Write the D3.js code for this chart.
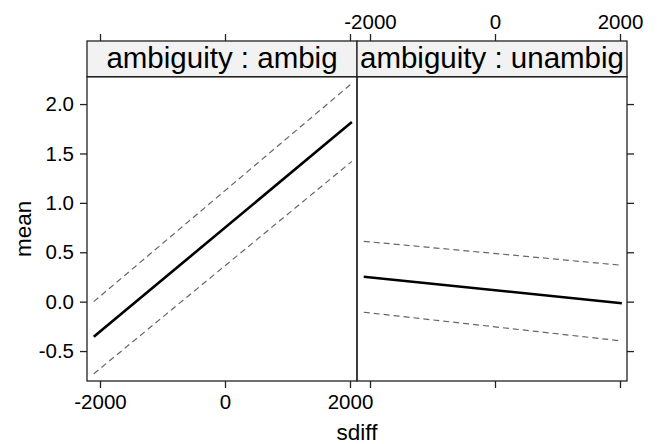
<!DOCTYPE html>
<html>
<head>
<meta charset="utf-8">
<script src="https://cdn.jsdelivr.net/npm/d3@7"></script>
<style>
  body { margin: 0; background: #fff; }
  text { font-family: "Liberation Sans", Arial, sans-serif; fill: #000; }
  .axis path.domain { display: none; }
  .axis line { stroke: #222; stroke-width: 1.3; }
</style>
</head>
<body>
<div id="vizcont"></div>
<script>
// panel conditions (strip labels)
var panels = ["ambig", "unambig"];
// x values where the effect lines are evaluated
var sdiff = [-2100, 2030];
// fitted mean and confidence bounds, one array per panel
var fitAmbig = [-0.356, 1.818];
var lowerAmbig = [-0.73, 1.42];
var upperAmbig = [0.0, 2.21];
var fitUnambig = [0.253, -0.016];
var lowerUnambig = [-0.107, -0.398];
var upperUnambig = [0.611, 0.368];
// tick values and labels
var xTicks = [-2000, 0, 2000];
var xTickLabels = ["-2000", "0", "2000"];
var yTicks = [-0.5, 0.0, 0.5, 1.0, 1.5, 2.0];
var yTickLabels = ["-0.5", "0.0", "0.5", "1.0", "1.5", "2.0"];

function draw_effects() {
  var width = 659, height = 444;
  var stripTop = 41, panelTop = 76.7, panelBottom = 381;
  var panelLeft = 87, panelW = 270;

  var svg = d3.select("#vizcont")
      .append("svg")
      .attr("width", width)
      .attr("height", height);

  // shared y scale
  var y = d3.scaleLinear()
      .domain([-0.803, 2.277])
      .range([panelBottom, panelTop]);

  var xLabel = function(d) { return xTickLabels[xTicks.indexOf(d)]; };
  var noLabel = function() { return ""; };

  var series = [
    { fit: fitAmbig, lower: lowerAmbig, upper: upperAmbig },
    { fit: fitUnambig, lower: lowerUnambig, upper: upperUnambig }
  ];

  panels.forEach(function(p, i) {
    var x0 = panelLeft + i * panelW;
    var x = d3.scaleLinear()
        .domain([-2208, 2112])
        .range([x0, x0 + panelW]);

    var g = svg.append("g");

    // strip
    g.append("rect")
      .attr("x", x0).attr("y", stripTop)
      .attr("width", panelW).attr("height", panelTop - stripTop)
      .attr("fill", "#f2f2f2")
      .attr("stroke", "#222").attr("stroke-width", 1.3);
    g.append("text")
      .attr("x", x0 + panelW / 2)
      .attr("y", panelTop - 9)
      .attr("text-anchor", "middle")
      .style("font-size", "29.5px")
      .text("ambiguity : " + p);

    // lines
    var line = d3.line()
        .x(function(d, k) { return x(sdiff[k]); })
        .y(function(d) { return y(d); });

    ["lower", "upper"].forEach(function(k) {
      g.append("path")
        .attr("d", line(series[i][k]))
        .attr("fill", "none")
        .attr("stroke", "#666")
        .attr("stroke-width", 1.2)
        .attr("stroke-dasharray", "6,4");
    });
    g.append("path")
      .attr("d", line(series[i].fit))
      .attr("fill", "none")
      .attr("stroke", "#000")
      .attr("stroke-width", 2.6);

    // panel frame
    g.append("rect")
      .attr("x", x0).attr("y", panelTop)
      .attr("width", panelW).attr("height", panelBottom - panelTop)
      .attr("fill", "none")
      .attr("stroke", "#222").attr("stroke-width", 1.3);

    // bottom axis: labels only on first panel
    var bottom = g.append("g")
      .attr("class", "axis")
      .attr("transform", "translate(0," + panelBottom + ")")
      .call(d3.axisBottom(x).tickValues(xTicks).tickSize(7).tickSizeOuter(0)
        .tickPadding(6)
        .tickFormat(i === 0 ? xLabel : noLabel));

    // top axis: labels only on second panel
    var top = g.append("g")
      .attr("class", "axis")
      .attr("transform", "translate(0," + stripTop + ")")
      .call(d3.axisTop(x).tickValues(xTicks).tickSize(7).tickSizeOuter(0)
        .tickPadding(5)
        .tickFormat(i === 1 ? xLabel : noLabel));

    bottom.selectAll("text").style("font-size", "20.5px").attr("fill", "#000")
      .attr("dy", "0.71em");
    top.selectAll("text").style("font-size", "20.5px").attr("fill", "#000");
  });

  // left y axis with labels
  var yl = svg.append("g")
    .attr("class", "axis")
    .attr("transform", "translate(" + panelLeft + ",0)")
    .call(d3.axisLeft(y).tickValues(yTicks).tickSize(7).tickSizeOuter(0)
      .tickPadding(6)
      .tickFormat(function(d) { return yTickLabels[yTicks.indexOf(d)]; }));
  yl.selectAll("text").style("font-size", "20.5px").attr("fill", "#000");

  // right y axis, ticks only
  svg.append("g")
    .attr("class", "axis")
    .attr("transform", "translate(" + (panelLeft + 2 * panelW) + ",0)")
    .call(d3.axisRight(y).tickValues(yTicks).tickSize(7).tickSizeOuter(0)
      .tickFormat(noLabel));

  // axis titles
  svg.append("text")
    .attr("x", panelLeft + panelW)
    .attr("y", 440)
    .attr("text-anchor", "middle")
    .style("font-size", "22.5px")
    .text("sdiff");
  svg.append("text")
    .attr("transform", "translate(31," + ((panelTop + panelBottom) / 2) + ") rotate(-90)")
    .attr("text-anchor", "middle")
    .style("font-size", "22.5px")
    .text("mean");
}

draw_effects();
</script>
</body>
</html>
